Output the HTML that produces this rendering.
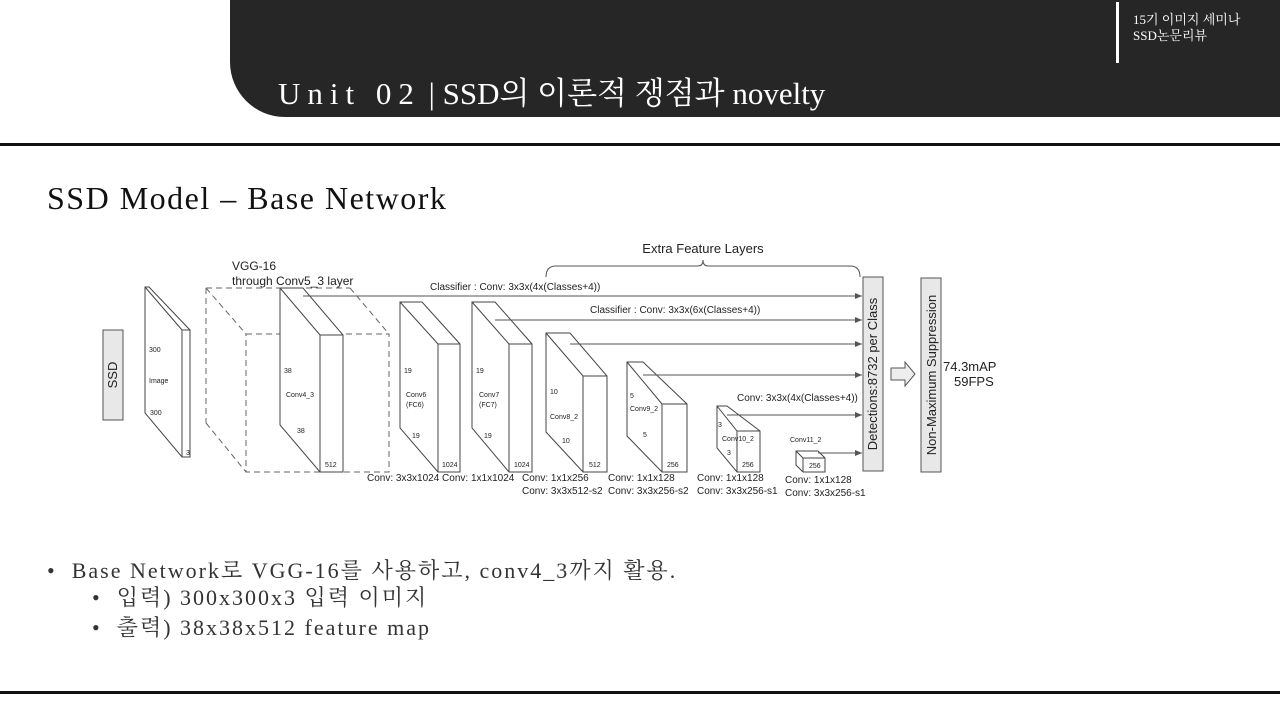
<!DOCTYPE html>
<html><head><meta charset="utf-8"><style>
body{margin:0;width:1280px;height:720px;background:#fff;position:relative;overflow:hidden;font-family:"Liberation Serif","Noto Serif CJK SC",serif}
.ban{position:absolute;left:230px;top:0;width:1050px;height:117px;background:#262626;border-bottom-left-radius:55px}
.t{position:absolute;color:#fff}
.ln{position:absolute;left:0;width:1280px;height:3px;background:#111}
.b{position:absolute;color:#333;font-size:22px;white-space:nowrap;letter-spacing:2px}
</style></head><body>
<div class="ban"></div>
<div class="t" style="left:278px;top:68px;font-size:31px;white-space:nowrap"><span style="letter-spacing:7px">Unit 02</span> | SSD의 이론적 쟁점과 novelty</div>
<div style="position:absolute;left:1116px;top:2px;width:3px;height:61px;background:#fff"></div>
<div class="t" style="left:1133px;top:12px;font-size:13px;line-height:16px">15기 이미지 세미나<br>SSD논문리뷰</div>
<div class="ln" style="top:143px"></div>
<div class="ln" style="top:691px"></div>
<div style="position:absolute;left:47px;top:180px;font-size:32px;color:#111;letter-spacing:1.5px;white-space:nowrap">SSD Model – Base Network</div>
<div class="b" style="left:47px;top:554px">•&nbsp; Base Network로 VGG-16를 사용하고, conv4_3까지 활용.</div>
<div class="b" style="left:92px;top:581px">•&nbsp; 입력) 300x300x3 입력 이미지</div>
<div class="b" style="left:92px;top:611px">•&nbsp; 출력) 38x38x512 feature map</div>
<svg width="1280" height="720" style="position:absolute;left:0;top:0" font-family="Liberation Sans, sans-serif" fill="none" stroke="#444" stroke-width="1">
<defs><marker id="a" markerWidth="8" markerHeight="8" refX="7" refY="4" orient="auto"><path d="M0,1 L7,4 L0,7z" fill="#555" stroke="none"/></marker></defs>
<rect x="103" y="330" width="20" height="90" fill="#e8e8e8" stroke="#555"/>
<text x="117" y="375" transform="rotate(-90 117 375)" font-size="13" fill="#222" stroke="none" text-anchor="middle">SSD</text>
<path d="M145,287 L149,287 L190,330 L190,457 L182,457 L145,413Z M145,287 L182,330 L190,330 M182,330 L182,457"/>
<g stroke-dasharray="6,4" stroke="#666"><rect x="246" y="334" width="143" height="138"/><path d="M206,288 L350,288 M206,288 L206,423 M206,288 L246,334 M350,288 L389,334 M206,423 L246,472"/></g>
<g fill="#fff">
<path d="M280,288 L303,288 L343,335 L343,472 L320,472 L280,425Z"/>
<path d="M400,302 L422,302 L460,344 L460,472 L438,472 L400,428Z"/>
<path d="M472,302 L495,302 L532,344 L532,472 L509,472 L472,428Z"/>
<path d="M546,333 L570,333 L607,376 L607,472 L583,472 L546,432Z"/>
<path d="M627,362 L643,362 L687,404 L687,472 L662,472 L627,436Z"/>
<path d="M717,406 L727,406 L760,431 L760,472 L737,472 L717,448Z"/>
<path d="M796,451 L818,451 L825,458 L825,472 L803,472 L796,465Z"/>
</g>
<path d="M280,288 L320,335 L343,335 M320,335 L320,472 M400,302 L438,344 L460,344 M438,344 L438,472 M472,302 L509,344 L532,344 M509,344 L509,472 M546,333 L583,376 L607,376 M583,376 L583,472 M627,362 L662,404 L687,404 M662,404 L662,472 M717,406 L737,431 L760,431 M737,431 L737,472 M796,451 L803,458 L825,458 M803,458 L803,472"/>
<g stroke="#555" marker-end="url(#a)">
<path d="M303,296 L862,296"/><path d="M495,320 L862,320"/><path d="M570,344 L862,344"/><path d="M643,375 L862,375"/><path d="M727,415 L862,415"/><path d="M818,453 L862,453"/>
</g>
<path d="M546,277 Q546,266 556,266 L698,266 Q703,266 703,260 Q703,266 708,266 L850,266 Q860,266 860,277" stroke="#555"/>
<rect x="863" y="277" width="20" height="194" fill="#e8e8e8" stroke="#555"/>
<rect x="921" y="278" width="20" height="194" fill="#e8e8e8" stroke="#555"/>
<path d="M891,368 L905,368 L905,362 L915,374 L905,386 L905,380 L891,380Z" fill="#eee" stroke="#555"/>
<g fill="#222" stroke="none" font-size="11">
<text x="877" y="374" transform="rotate(-90 877 374)" font-size="13" text-anchor="middle">Detections:8732 per Class</text>
<text x="936" y="375" transform="rotate(-90 936 375)" font-size="13" text-anchor="middle">Non-Maximum Suppression</text>
<text x="943" y="371" font-size="13">74.3mAP</text><text x="954" y="386" font-size="13">59FPS</text>
<text x="703" y="253" font-size="13" text-anchor="middle">Extra Feature Layers</text>
<text x="232" y="270" font-size="12">VGG-16</text><text x="232" y="285" font-size="12">through Conv5_3 layer</text>
<text x="430" y="290" font-size="10">Classifier : Conv: 3x3x(4x(Classes+4))</text>
<text x="590" y="313" font-size="10">Classifier : Conv: 3x3x(6x(Classes+4))</text>
<text x="737" y="401" font-size="10">Conv: 3x3x(4x(Classes+4))</text>
<text x="790" y="442" font-size="7">Conv11_2</text>
<g font-size="10">
<text x="367" y="481">Conv: 3x3x1024 Conv: 1x1x1024</text>
<text x="522" y="481">Conv: 1x1x256</text><text x="522" y="494">Conv:  3x3x512-s2</text>
<text x="608" y="481">Conv: 1x1x128</text><text x="608" y="494">Conv: 3x3x256-s2</text>
<text x="697" y="481">Conv: 1x1x128</text><text x="697" y="494">Conv: 3x3x256-s1</text>
<text x="785" y="483">Conv: 1x1x128</text><text x="785" y="496">Conv: 3x3x256-s1</text>
</g>
<g font-size="7">
<text x="149" y="352">300</text><text x="149" y="383">Image</text><text x="150" y="415">300</text><text x="186" y="455">3</text>
<text x="284" y="373">38</text><text x="286" y="397">Conv4_3</text><text x="297" y="433">38</text><text x="325" y="467">512</text>
<text x="404" y="373">19</text><text x="406" y="397">Conv6</text><text x="406" y="407">(FC6)</text><text x="412" y="438">19</text><text x="442" y="467">1024</text>
<text x="476" y="373">19</text><text x="479" y="397">Conv7</text><text x="479" y="407">(FC7)</text><text x="484" y="438">19</text><text x="514" y="467">1024</text>
<text x="550" y="394">10</text><text x="550" y="419">Conv8_2</text><text x="562" y="443">10</text><text x="589" y="467">512</text>
<text x="630" y="398">5</text><text x="630" y="411">Conv9_2</text><text x="643" y="437">5</text><text x="667" y="467">256</text>
<text x="718" y="427">3</text><text x="722" y="441">Conv10_2</text><text x="727" y="455">3</text><text x="742" y="467">256</text>
<text x="809" y="468">256</text>
</g></g>
</svg>
</body></html>
